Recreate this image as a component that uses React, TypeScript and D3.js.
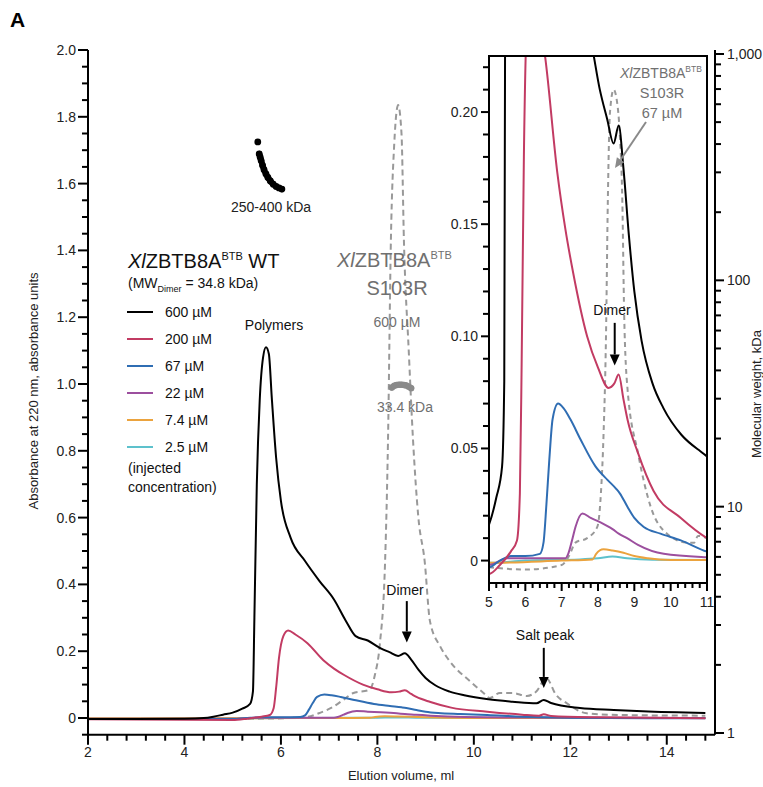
import React from 'react';
import * as d3 from 'd3';

type P = [number, number];

// ---------- data (elution volume ml, absorbance) ----------
const wt600: P[] = [[2,-0.003],[3,-0.003],[4,-0.002],[4.4,0],[4.6,0.004],[4.8,0.01],[5.0,0.016],[5.2,0.028],[5.36,0.042],[5.42,0.08],[5.45,0.3],[5.5,0.7],[5.56,0.95],[5.63,1.08],[5.69,1.11],[5.75,1.09],[5.81,0.96],[5.9,0.78],[6.0,0.65],[6.2,0.54],[6.5,0.47],[6.8,0.41],[7.1,0.355],[7.35,0.29],[7.55,0.245],[7.8,0.232],[8.05,0.21],[8.25,0.197],[8.43,0.186],[8.57,0.194],[8.7,0.175],[8.85,0.145],[9.0,0.12],[9.2,0.098],[9.5,0.079],[9.8,0.068],[10.3,0.056],[10.8,0.049],[11.3,0.044],[11.45,0.054],[11.6,0.045],[12.2,0.03],[12.9,0.024],[13.5,0.02],[14.8,0.015]];
const wt200: P[] = [[2,-0.004],[5.0,-0.006],[5.3,-0.002],[5.6,0.004],[5.77,0.009],[5.85,0.03],[5.9,0.09],[5.96,0.18],[6.05,0.245],[6.15,0.262],[6.3,0.25],[6.55,0.224],[6.88,0.173],[7.1,0.148],[7.32,0.128],[7.7,0.1],[8.0,0.086],[8.29,0.077],[8.45,0.079],[8.57,0.083],[8.7,0.072],[8.81,0.063],[9.1,0.048],[9.53,0.031],[10.28,0.019],[11.0,0.01],[11.35,0.007],[11.45,0.011],[11.6,0.006],[12.5,0.002],[14.8,-0.001]];
const wt67: P[] = [[2,-0.003],[5.0,-0.003],[5.3,0.0],[5.6,0.002],[6.0,0.002],[6.4,0.003],[6.5,0.008],[6.58,0.025],[6.66,0.045],[6.75,0.063],[6.9,0.07],[7.05,0.068],[7.24,0.063],[7.52,0.054],[7.93,0.042],[8.26,0.036],[8.5,0.032],[8.6,0.03],[8.81,0.024],[9.0,0.019],[9.26,0.015],[9.72,0.012],[10.28,0.009],[11.0,0.004],[12,0.001],[14.8,-0.001]];
const wt22: P[] = [[2,-0.002],[5.0,-0.002],[5.5,0.001],[6.5,0.001],[7.1,0.001],[7.18,0.003],[7.3,0.01],[7.38,0.015],[7.57,0.021],[7.8,0.019],[8.07,0.017],[8.4,0.014],[8.57,0.012],[8.8,0.01],[9.1,0.007],[9.81,0.003],[11.0,0.0015],[14.8,0]];
const wt7: P[] = [[2,-0.001],[5.0,-0.001],[7.0,0],[7.85,0.0005],[7.95,0.003],[8.15,0.005],[8.4,0.0045],[8.7,0.0035],[9.0,0.002],[9.37,0.001],[10,0.0003],[14.8,0]];
const wt2: P[] = [[2,-0.001],[5.0,-0.001],[6.0,0],[7.5,0.0005],[8.0,0.001],[8.4,0.0018],[8.8,0.001],[9.5,0.0004],[14.8,0]];
const s103r600: P[] = [[2,-0.003],[4,-0.003],[5.5,-0.002],[6.2,0.0],[6.54,0.003],[6.8,0.015],[7.08,0.033],[7.3,0.055],[7.49,0.074],[7.84,0.085],[7.95,0.13],[8.05,0.22],[8.16,0.47],[8.22,0.83],[8.28,1.43],[8.35,1.72],[8.43,1.835],[8.5,1.75],[8.55,1.43],[8.65,1.1],[8.74,0.83],[8.85,0.6],[8.98,0.47],[9.09,0.29],[9.3,0.215],[9.5,0.17],[9.92,0.11],[10.2,0.075],[10.33,0.06],[10.54,0.075],[10.8,0.075],[11.1,0.066],[11.3,0.08],[11.5,0.12],[11.7,0.07],[11.93,0.044],[12.34,0.014],[13,0.009],[14.8,0.007]];
const s103r67: P[] = [[5,-0.003],[6,-0.004],[7.0,-0.002],[7.2,0.002],[7.38,0.008],[7.7,0.01],[7.98,0.015],[8.08,0.03],[8.15,0.055],[8.22,0.1],[8.27,0.16],[8.33,0.2],[8.43,0.21],[8.52,0.205],[8.6,0.19],[8.67,0.16],[8.72,0.11],[8.81,0.077],[9.1,0.048],[9.45,0.024],[9.9,0.012],[10.47,0.008],[10.65,0.008],[10.75,0.011],[11.0,0.01]];

// molecular weight (ml, kDa)
const wtMW: P[] = [[5.52,409],[5.55,362],[5.57,350],[5.59,338],[5.62,322],[5.65,308],[5.69,295],[5.73,285],[5.78,275],[5.84,266],[5.9,260],[5.96,256],[6.02,253]];
const s103rMW: P[] = [[8.3,33.6],[8.35,34.2],[8.4,34.5],[8.45,34.6],[8.5,34.6],[8.55,34.5],[8.6,34.3],[8.65,33.9],[8.7,33.4]];

const legendLabels = ['600 µM', '200 µM', '67 µM', '22 µM', '7.4 µM', '2.5 µM'];
const seriesColors = ['#000000', '#c23b63', '#2f6db3', '#9c4f9e', '#eba33e', '#5dc1cc'];
const wtSeries = [wt600, wt200, wt67, wt22, wt7, wt2];
const rightTickLabels: [number, string][] = [[1, '1'], [10, '10'], [100, '100'], [1000, '1,000']];

const FONT = '"Liberation Sans", Arial, sans-serif';
const GRAY = '#999999';
const TXTGRAY = '#707070';

function Arrow({ x1, y1, x2, y2, color = '#000', head = 11, w = 2 }: any) {
  const ang = Math.atan2(y2 - y1, x2 - x1);
  const bx = x2 - head * Math.cos(ang), by = y2 - head * Math.sin(ang);
  const px = -Math.sin(ang) * head * 0.45, py = Math.cos(ang) * head * 0.45;
  return (
    <g>
      <line x1={x1} y1={y1} x2={bx} y2={by} stroke={color} strokeWidth={w} />
      <polygon points={`${x2},${y2} ${bx + px},${by + py} ${bx - px},${by - py}`} fill={color} />
    </g>
  );
}

export default function App() {
  const x = d3.scaleLinear().domain([2, 15]).range([88, 715]);
  const y = d3.scaleLinear().domain([-0.05, 2.0]).range([734.7, 50]);
  const yR = d3.scaleLog().domain([1, 1000]).range([733, 54]);
  const ix = d3.scaleLinear().domain([5, 11]).range([489, 707]);
  const iy = d3.scaleLinear().domain([-0.01, 0.225]).range([583, 56]);

  const line = d3.line<P>().x(d => x(d[0])).y(d => y(d[1])).curve(d3.curveMonotoneX);
  const iline = d3.line<P>().x(d => ix(d[0])).y(d => iy(d[1])).curve(d3.curveMonotoneX);
  const mwLine = d3.line<P>().x(d => x(d[0])).y(d => yR(d[1])).curve(d3.curveMonotoneX);

  const yTicks = d3.range(0, 42).map(i => -0.05 + i * 0.05).filter(v => v <= 2.0001);
  const xTicks = d3.range(0, 33).map(i => 2 + i * 0.4);
  const rTicks: number[] = [];
  [1, 10, 100].forEach(dec => { for (let k = 1; k < 10; k++) rTicks.push(k * dec); });
  rTicks.push(1000);
  const iyTicks = d3.range(0, 23).map(i => i * 0.01);
  const ixTicks = d3.range(0, 31).map(i => 5 + i * 0.2);

  const isMajor = (v: number, step: number, off = 0) => Math.abs((v - off) / step - Math.round((v - off) / step)) < 1e-6;

  const legendY = [312, 339, 366, 393, 420, 447];

  return (
    <svg width={763} height={787} style={{ position: 'absolute', left: 0, top: 0, background: '#fff' }} fontFamily={FONT}>
      <rect width={763} height={787} fill="#fff" />
      <text x={10} y={27} fontSize={21} fontWeight="bold" fill="#000">A</text>

      {/* main curves */}
      <path d={line(s103r600) || ''} fill="none" stroke={GRAY} strokeWidth={2} strokeDasharray="6,4" />
      {wtSeries.slice().reverse().map((s, i) => (
        <path key={i} d={line(s) || ''} fill="none" stroke={seriesColors[5 - i]} strokeWidth={2} />
      ))}

      {/* MW dots */}
      <path d={mwLine(wtMW.slice(1)) || ''} fill="none" stroke="#000" strokeWidth={6} strokeLinecap="round" />
      {wtMW.map((d, i) => <circle key={i} cx={x(d[0])} cy={yR(d[1])} r={3.4} fill="#000" />)}
      <path d={mwLine(s103rMW) || ''} fill="none" stroke="#8a8a8a" strokeWidth={6} strokeLinecap="round" />
      {s103rMW.map((d, i) => <circle key={i} cx={x(d[0])} cy={yR(d[1])} r={3.2} fill="#8a8a8a" />)}

      {/* left axis */}
      <line x1={88} x2={88} y1={y(2.0)} y2={y(-0.05)} stroke="#000" strokeWidth={2} />
      {yTicks.map((v, i) => {
        const maj = v >= -1e-9 && isMajor(v, 0.2);
        return (
          <g key={i}>
            <line x1={88} x2={88 - (maj ? 10 : 6)} y1={y(v)} y2={y(v)} stroke="#000" strokeWidth={2} />
            {maj && <text x={76} y={y(v) + 5} fontSize={14} textAnchor="end" fill="#222">{Math.abs(v) < 1e-9 ? '0' : v.toFixed(1)}</text>}
          </g>
        );
      })}
      <text transform="translate(38,391) rotate(-90)" fontSize={13} textAnchor="middle" fill="#222">Absorbance at 220 nm, absorbance units</text>

      {/* bottom axis */}
      <line x1={88} x2={715} y1={y(-0.05)} y2={y(-0.05)} stroke="#000" strokeWidth={2} />
      {xTicks.map((v, i) => {
        const maj = isMajor(v, 2);
        return (
          <g key={i}>
            <line x1={x(v)} x2={x(v)} y1={y(-0.05)} y2={y(-0.05) + (maj ? 10 : 6)} stroke="#000" strokeWidth={2} />
            {maj && <text x={x(v)} y={757} fontSize={14} textAnchor="middle" fill="#222">{Math.round(v)}</text>}
          </g>
        );
      })}
      <text x={401} y={780} fontSize={13} textAnchor="middle" fill="#222">Elution volume, ml</text>

      {/* right axis */}
      <line x1={715} x2={715} y1={50} y2={y(-0.05)} stroke="#000" strokeWidth={2} />
      {rTicks.map((v, i) => {
        const maj = isMajor(Math.log10(v), 1);
        return <line key={i} x1={715} x2={715 + (maj ? 9 : 6)} y1={yR(v)} y2={yR(v)} stroke="#000" strokeWidth={2} />;
      })}
      {rightTickLabels.map(([v, s]) => (
        <text key={s} x={727} y={yR(v) + 5} fontSize={14} fill="#222">{s}</text>
      ))}
      <text transform="translate(761,394) rotate(-90)" fontSize={13} textAnchor="middle" fill="#222">Molecular weight, kDa</text>

      {/* main annotations */}
      <text x={271} y={212} fontSize={14} textAnchor="middle" fill="#222">250-400 kDa</text>
      <text x={128} y={268} fontSize={20} fill="#111">
        <tspan fontStyle="italic">Xl</tspan>ZBTB8A<tspan fontSize={11} dy={-8}>BTB</tspan><tspan dy={8}> WT</tspan>
      </text>
      <text x={128} y={288} fontSize={14} fill="#111">
        (MW<tspan fontSize={9} dy={4}>Dimer</tspan><tspan dy={-4}> = 34.8 kDa)</tspan>
      </text>
      {legendLabels.map((lab, i) => (
        <g key={lab}>
          <line x1={127} x2={153} y1={legendY[i]} y2={legendY[i]} stroke={seriesColors[i]} strokeWidth={2} />
          <text x={165} y={legendY[i] + 5} fontSize={14} fill="#111">{lab}</text>
        </g>
      ))}
      <text x={128} y={473} fontSize={14} fill="#111">(injected</text>
      <text x={128} y={492} fontSize={14} fill="#111">concentration)</text>
      <text x={274} y={330} fontSize={14} textAnchor="middle" fill="#111">Polymers</text>

      <text x={337} y={267} fontSize={20} fill={TXTGRAY}>
        <tspan fontStyle="italic">Xl</tspan>ZBTB8A<tspan fontSize={11} dy={-8}>BTB</tspan>
      </text>
      <text x={397} y={295} fontSize={20} textAnchor="middle" fill={TXTGRAY}>S103R</text>
      <text x={397} y={327} fontSize={14} textAnchor="middle" fill={TXTGRAY}>600 µM</text>
      <text x={405} y={412} fontSize={14} textAnchor="middle" fill={TXTGRAY}>33.4 kDa</text>

      <text x={405} y={595} fontSize={14} textAnchor="middle" fill="#111">Dimer</text>
      <Arrow x1={x(8.61)} y1={y(0.35)} x2={x(8.61)} y2={y(0.226)} />
      <text x={545} y={640} fontSize={14} textAnchor="middle" fill="#111">Salt peak</text>
      <Arrow x1={x(11.45)} y1={y(0.21)} x2={x(11.45)} y2={y(0.09)} />

      {/* inset */}
      <defs>
        <clipPath id="insetClip"><rect x={489} y={56} width={218} height={527} /></clipPath>
      </defs>
      <rect x={489} y={56} width={218} height={527} fill="#fff" />
      <g clipPath="url(#insetClip)">
        <path d={iline(s103r67) || ''} fill="none" stroke={GRAY} strokeWidth={2} strokeDasharray="5,4" />
        {wtSeries.slice().reverse().map((s, i) => (
          <path key={i} d={iline(s) || ''} fill="none" stroke={seriesColors[5 - i]} strokeWidth={2} />
        ))}
      </g>
      <rect x={489} y={56} width={218} height={527} fill="none" stroke="#000" strokeWidth={2} />
      {iyTicks.map((v, i) => {
        const maj = isMajor(v, 0.05);
        return (
          <g key={i}>
            <line x1={489} x2={489 - (maj ? 8 : 6)} y1={iy(v)} y2={iy(v)} stroke="#000" strokeWidth={2} />
            {maj && <text x={478} y={iy(v) + 5} fontSize={14} textAnchor="end" fill="#222">{v === 0 ? '0' : v.toFixed(2)}</text>}
          </g>
        );
      })}
      {ixTicks.map((v, i) => {
        const maj = isMajor(v, 1);
        return (
          <g key={i}>
            <line x1={ix(v)} x2={ix(v)} y1={583} y2={583 + (maj ? 8 : 5)} stroke="#000" strokeWidth={2} />
            {maj && <text x={ix(v)} y={607} fontSize={14} textAnchor="middle" fill="#222">{Math.round(v)}</text>}
          </g>
        );
      })}
      <text x={612} y={315} fontSize={14} textAnchor="middle" fill="#111">Dimer</text>
      <Arrow x1={ix(8.46)} y1={iy(0.106)} x2={ix(8.46)} y2={iy(0.087)} />
      <text x={620} y={78} fontSize={14} fill={TXTGRAY}>
        <tspan fontStyle="italic">Xl</tspan>ZBTB8A<tspan fontSize={8.5} dy={-6}>BTB</tspan>
      </text>
      <text x={662} y={98} fontSize={14.5} textAnchor="middle" fill={TXTGRAY}>S103R</text>
      <text x={662} y={118} fontSize={14.5} textAnchor="middle" fill={TXTGRAY}>67 µM</text>
      <Arrow x1={646} y1={122} x2={615} y2={168} color="#8a8a8a" head={10} />
    </svg>
  );
}
